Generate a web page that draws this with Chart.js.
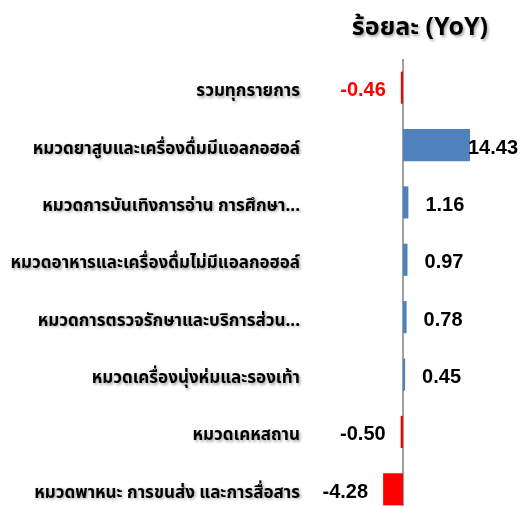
<!DOCTYPE html>
<html>
<head>
<meta charset="utf-8">
<script src="https://cdn.jsdelivr.net/npm/chart.js@4"></script>
<style>
  html, body { margin: 0; padding: 0; background: #fff; overflow: hidden; }
</style>
</head>
<body>
<canvas id="chart" width="521" height="520"></canvas>
<script>
// หมวดสินค้า (เรียงจากบนลงล่าง)
const categories = [
  "รวมทุกรายการ",
  "หมวดยาสูบและเครื่องดื่มมีแอลกอฮอล์",
  "หมวดการบันเทิงการอ่าน การศึกษา...",
  "หมวดอาหารและเครื่องดื่มไม่มีแอลกอฮอล์",
  "หมวดการตรวจรักษาและบริการส่วน...",
  "หมวดเครื่องนุ่งห่มและรองเท้า",
  "หมวดเคหสถาน",
  "หมวดพาหนะ การขนส่ง และการสื่อสาร",
];
// ร้อยละ (YoY)
const yoyValues = [-0.46, 14.43, 1.16, 0.97, 0.78, 0.45, -0.50, -4.28];
const labelColors = ["#ff0000", "#000", "#000", "#000", "#000", "#000", "#000", "#000"];
const titleText = "ร้อยละ (YoY)";

const BLUE = "#4f81bd";
const RED = "#ff0000";
const thaiFont = "Tahoma, 'Noto Sans Thai', 'Noto Sans', 'DejaVu Sans', sans-serif";
const numFont = "'Liberation Sans', Arial, sans-serif";

// เงาของป้ายหมวด (วาดก่อนชุดข้อมูล)
const shadowPlugin = {
  id: "labelShadow",
  beforeDraw(chart) {
    const c = chart.ctx;
    c.save();
    c.shadowColor = "rgba(0,0,0,0.35)";
    c.shadowBlur = 3;
    c.shadowOffsetX = 1.5;
    c.shadowOffsetY = 1.5;
  },
  beforeDatasetsDraw(chart) {
    chart.ctx.restore();
  },
};

// เส้นศูนย์และตัวเลขค่าของแต่ละแท่ง
const valuePlugin = {
  id: "values",
  beforeDatasetsDraw(chart) {
    const c = chart.ctx;
    const x0 = chart.scales.x.getPixelForValue(0);
    const area = chart.chartArea;
    c.save();
    c.strokeStyle = "#a0a0a0";
    c.lineWidth = 2;
    c.beginPath();
    c.moveTo(x0, area.top);
    c.lineTo(x0, area.bottom);
    c.stroke();
    c.restore();
  },
  afterDatasetsDraw(chart) {
    const c = chart.ctx;
    const meta = chart.getDatasetMeta(0);
    c.save();
    c.font = "bold 20px " + numFont;
    c.textBaseline = "middle";
    meta.data.forEach((bar, i) => {
      const v = yoyValues[i];
      const txt = v.toFixed(2);
      c.fillStyle = labelColors[i];
      if (v >= 0) {
        const w = c.measureText(txt).width;
        let x = bar.x + 17;
        if (x + w > chart.width - 3) x = chart.width - 3 - w;
        c.textAlign = "left";
        c.fillText(txt, x, bar.y + 3);
      } else {
        c.textAlign = "right";
        c.fillText(txt, bar.x - 15, bar.y + 3);
      }
    });
    c.restore();
  },
};

new Chart(document.getElementById("chart"), {
  type: "bar",
  data: {
    labels: categories,
    datasets: [{
      data: yoyValues,
      backgroundColor: yoyValues.map((v) => (v < 0 ? RED : BLUE)),
      borderWidth: 0,
      barPercentage: 0.56,
      categoryPercentage: 1,
    }],
  },
  options: {
    indexAxis: "y",
    responsive: false,
    animation: false,
    layout: { padding: { top: 3, right: 33, bottom: 2, left: 0 } },
    plugins: {
      legend: { display: false },
      tooltip: { enabled: false },
      title: {
        display: true,
        text: titleText,
        align: "end",
        color: "#000",
        font: { family: thaiFont, size: 25, weight: "bold" },
        padding: { top: 12, bottom: 14 },
      },
    },
    scales: {
      x: {
        display: false,
        min: -18.3,
        max: 18.3,
      },
      y: {
        grid: { display: false },
        border: { display: false },
        ticks: {
          color: "#000",
          padding: 10,
          labelOffset: 5,
          autoSkip: false,
          font: { family: thaiFont, size: 17, weight: "bold" },
        },
        afterFit(axis) {
          axis.width = 318;
          axis.paddingTop = 0;
          axis.paddingBottom = 0;
        },
      },
    },
  },
  plugins: [shadowPlugin, valuePlugin],
});
</script>
</body>
</html>
